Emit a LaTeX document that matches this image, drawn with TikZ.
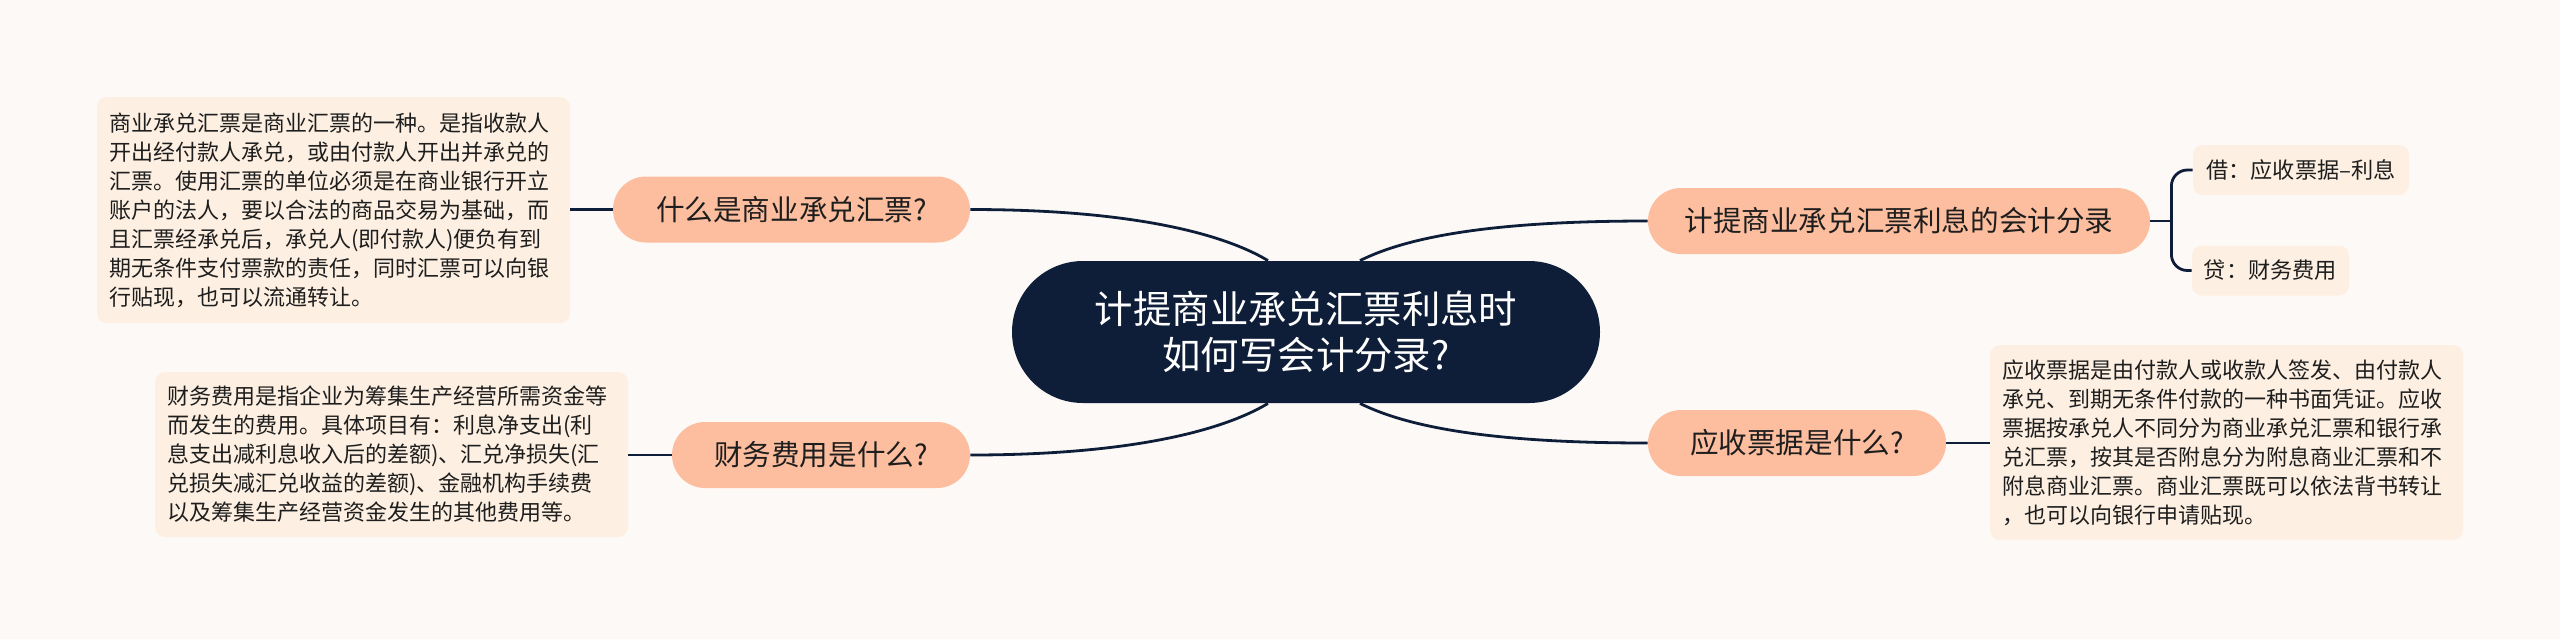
\documentclass[tikz,border=0pt]{standalone}
\usepackage{fontspec}
\newfontfamily\cjk{Noto Sans CJK SC}
\usetikzlibrary{calc}
\definecolor{bg}{HTML}{FDF9F7}
\definecolor{navy}{HTML}{0E1E38}
\definecolor{salmon}{HTML}{FCBE9E}
\definecolor{cream}{HTML}{FDF0E2}
\definecolor{ink}{HTML}{1E1E1E}
\begin{document}
\begin{tikzpicture}[x=0.5pt,y=-0.5pt,
 centerbox/.style={fill=navy, text=white, rounded corners=35.5pt, minimum width=294pt, minimum height=71pt, inner sep=0pt, align=center, font=\cjk\fontsize{19.2}{22.8}\selectfont},
 branch/.style={fill=salmon, text=ink, rounded corners=16.5pt, minimum height=33pt, inner xsep=2pt, inner ysep=0pt, font=\cjk\fontsize{14.3}{17}\selectfont},
 leaf/.style={fill=cream, text=ink, rounded corners=5pt, minimum height=25pt, inner xsep=2pt, inner ysep=0pt, font=\cjk\fontsize{11.1}{13}\selectfont},
 note/.style={fill=cream, text=ink, rounded corners=5pt, text width=224.5pt, inner xsep=6pt, inner ysep=0pt, align=left, font=\cjk\fontsize{11}{14.5}\selectfont},
 link/.style={draw=navy, line width=1.4pt}
]
\fill[bg] (0,0) rectangle (2560,639);
\useasboundingbox (0,0) rectangle (2560,639);

\node[centerbox] (c) at (1306,332) {计提商业承兑汇票利息时\\如何写会计分录?};

\node[branch, minimum width=178.5pt] (q1) at (791.5,209.5) {什么是商业承兑汇票?};
\node[branch, minimum width=149pt] (q2) at (821,455) {财务费用是什么?};
\node[branch, minimum width=251pt] (q3) at (1899,221) {计提商业承兑汇票利息的会计分录};
\node[branch, minimum width=149pt] (q4) at (1797,443) {应收票据是什么?};

\node[leaf, minimum width=108pt] (l1) at (2301,170) {借：应收票据–利息};
\node[leaf, minimum width=78.5pt] (l2) at (2270.5,270.5) {贷：财务费用};

\node[note, minimum height=113pt] (n1) at (333.5,210) {商业承兑汇票是商业汇票的一种。是指收款人\\开出经付款人承兑，或由付款人开出并承兑的\\汇票。使用汇票的单位必须是在商业银行开立\\账户的法人，要以合法的商品交易为基础，而\\且汇票经承兑后，承兑人(即付款人)便负有到\\期无条件支付票款的责任，同时汇票可以向银\\行贴现，也可以流通转让。};
\node[note, minimum height=82.5pt] (n2) at (391.5,454.5) {财务费用是指企业为筹集生产经营所需资金等\\而发生的费用。具体项目有：利息净支出(利\\息支出减利息收入后的差额)、汇兑净损失(汇\\兑损失减汇兑收益的差额)、金融机构手续费\\以及筹集生产经营资金发生的其他费用等。};
\node[note, minimum height=97.5pt] (n3) at (2226.5,442.5) {应收票据是由付款人或收款人签发、由付款人\\承兑、到期无条件付款的一种书面凭证。应收\\票据按承兑人不同分为商业承兑汇票和银行承\\兑汇票，按其是否附息分为附息商业汇票和不\\附息商业汇票。商业汇票既可以依法背书转让\\，也可以向银行申请贴现。};

\draw[link] (q1.east) .. controls +(150,0) and +(-50,-30) .. ([xshift=-19pt]c.north);
\draw[link] (q2.east) .. controls +(150,0) and +(-50,30) .. ([xshift=-19pt]c.south);
\draw[link] (q3.west) .. controls +(-150,0) and +(50,-25) .. ([xshift=27pt]c.north);
\draw[link] (q4.west) .. controls +(-150,0) and +(50,25) .. ([xshift=27pt]c.south);

\draw[link] (q1.west) -- (q1.west -| n1.east);
\draw[link] (q2.west) -- (q2.west -| n2.east);
\draw[link] (q4.east) -- (q4.east -| n3.west);

\draw[link] (q3.east) -- ++(21,0);
\draw[link, rounded corners=8pt] (l1.west) -| ($(q3.east)+(21,0)$) |- (l2.west);
\end{tikzpicture}
\end{document}
